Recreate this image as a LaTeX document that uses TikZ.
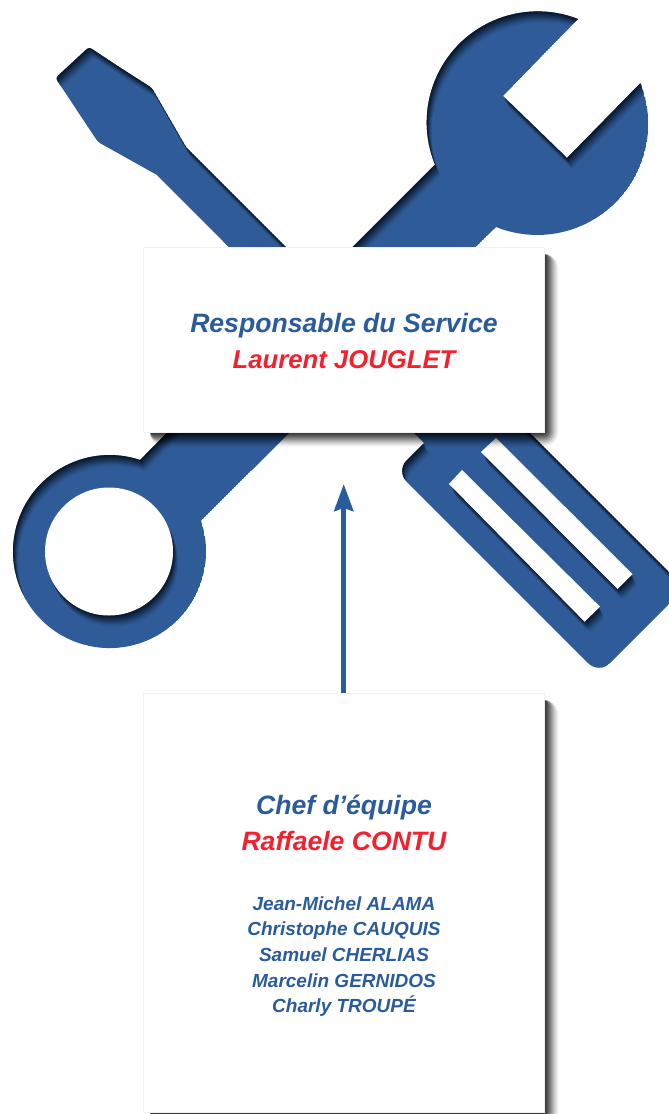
\documentclass[tikz,border=0pt]{standalone}
\usepackage{fontspec}
\setmainfont{Liberation Sans}
\usetikzlibrary{arrows.meta}
\definecolor{toolblue}{HTML}{2F5B98}
\definecolor{textblue}{HTML}{2A5B9B}
\definecolor{textred}{HTML}{F5202E}
\def\wrenchouter{(578,19) arc[start angle=-68.7,end angle=-202.3,radius=111] -- (140,460) arc[start angle=-71.6,end angle=-378.6,radius=96.5] -- (496,227) arc[start angle=111.8,end angle=-21.6,radius=111] -- (567,158) -- (503,96) -- cycle}
\def\wrenchhole{(109,551.5) circle[radius=64]}
\def\drivouter{(120,67.5) [rounded corners=3] -- (152,88) [sharp corners] -- (186,147) -- (454.5,415.5) -- (483.5,386.5) [rounded corners=15] -- (685,588) -- (599,674) -- (396,471) [sharp corners] -- (424,443) -- (157,175) [rounded corners=3] -- (98,142) -- (55.5,78) -- (89,47) -- cycle}
\def\slotA{(496,438) -- (481,452) -- (617.5,589) -- (632.5,574) -- cycle}
\def\slotB{(462,470) -- (449,484) -- (584.6,621.7) -- (600,606.7) -- cycle}
\newcommand\shadedtool[2]{%
  \begin{scope}
    \clip #1;
    \fill[toolblue] #1;
    \foreach \k in {1,...,15}{
      \begin{scope}[shift={(.35*\k,.75*\k)}]
        \pgfmathsetmacro\alphaval{.13-.007*\k}
        \fill[even odd rule,black,opacity=\alphaval] (-100,-100) rectangle (800,1300) #1 #2;
      \end{scope}
    }
  \end{scope}
}
\newcommand\cardshadow[4]{%
  \foreach \k in {15,14,...,1}{
    \pgfmathsetmacro\alphaval{.025+.011*(15-\k)}
    \fill[black,opacity=\alphaval,rounded corners=\k pt] (#1+7,#2+7) rectangle (#3+\k,#4+\k);
  }
}
\tikzset{
  card/.style={draw=black!6,line width=.5pt,fill=white,inner sep=0pt,anchor=north west},
  title/.style={font=\fontsize{26.6}{30}\selectfont\bfseries\itshape,anchor=base,inner sep=0pt},
  person/.style={font=\fontsize{19}{22}\selectfont\bfseries\itshape,anchor=base,inner sep=0pt,text=textblue}
}
\begin{document}
\begin{tikzpicture}[x=1pt,y=-1pt]
\useasboundingbox (0,0) rectangle (669,1114);
\clip (0,0) rectangle (669,1114);
\shadedtool{\wrenchouter}{\wrenchhole}
\fill[white] \wrenchhole;
\shadedtool{\drivouter}{\slotA \slotB}
\fill[white] \slotA;
\fill[white] \slotB;
\cardshadow{143}{247}{544}{432}
\cardshadow{143}{693}{544}{1112}
\node[card,minimum width=401pt,minimum height=185pt] (top) at (143,247) {};
\node[card,minimum width=401pt,minimum height=419pt] (bottom) at (143,693) {};
\coordinate (tip) at (344,484);
\draw[textblue,line width=5pt,-{Stealth[length=27pt,width=19pt,inset=3pt]}] (bottom.north) -- (bottom.north |- tip);
\node[title,text=textblue] (t1) at (344,332) {Responsable du Service};
\node[title,text=textred,font=\fontsize{25.7}{30}\selectfont\bfseries\itshape] (t2) at (344,368) {Laurent JOUGLET};
\node[title,text=textblue] (t3) at (344,814) {Chef d’équipe};
\node[title,text=textred] (t4) at (344,850) {Raffaele CONTU};
\node[person] (p1) at (344,910) {Jean-Michel ALAMA};
\node[person] (p2) at (344,935) {Christophe CAUQUIS};
\node[person] (p3) at (344,961) {Samuel CHERLIAS};
\node[person] (p4) at (344,987) {Marcelin GERNIDOS};
\node[person] (p5) at (344,1012) {Charly TROUPÉ};
\end{tikzpicture}
\end{document}
